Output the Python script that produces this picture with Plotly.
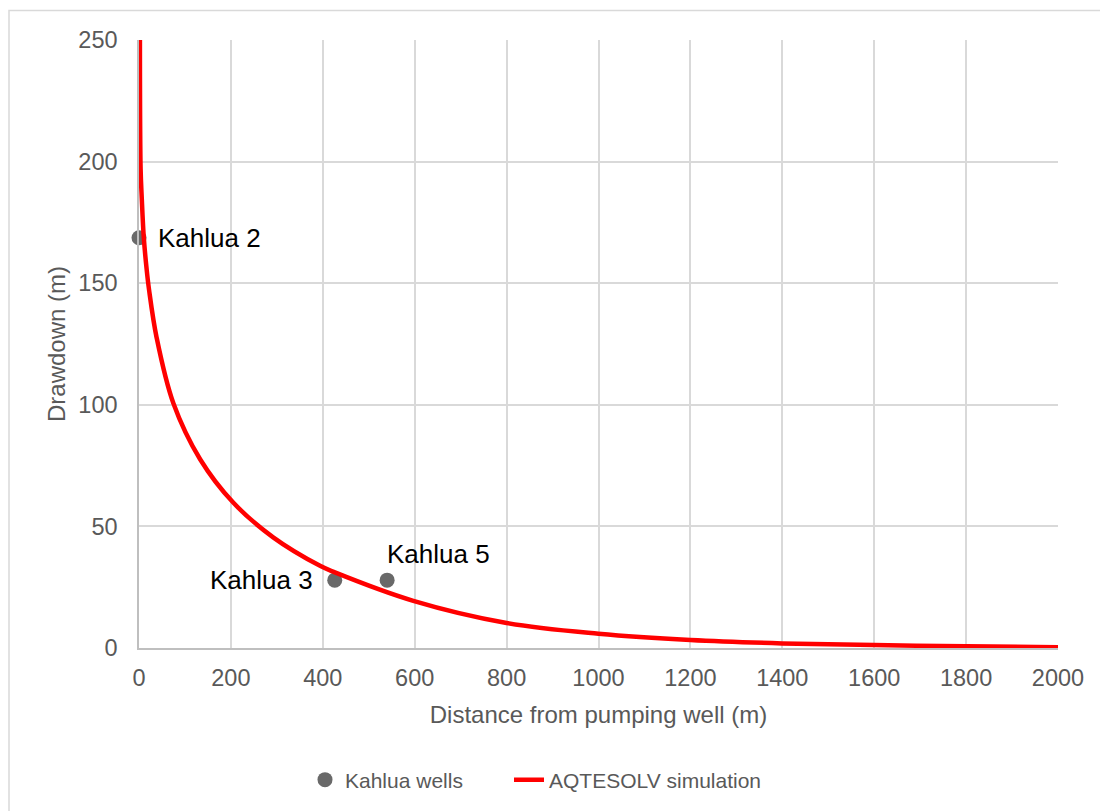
import plotly.graph_objects as go

# Observed drawdown at the Kahlua monitoring wells
well_names = ["Kahlua 2", "Kahlua 3", "Kahlua 5"]
well_distance = [0, 426, 540]
well_drawdown = [168.7, 27.9, 27.9]

# AQTESOLV simulated drawdown profile
sim_distance = [2, 3.5, 6, 10.5, 16.7, 21.8, 38.5, 75, 133, 205, 292, 394, 425,
                597, 800, 1000, 1200, 1400, 1600, 1800, 2000]
sim_drawdown = [250, 197, 185, 168.6, 155.6, 147.4, 127.5, 100.5, 77.6, 59.8,
                45.5, 33.8, 31.2, 19.4, 10.3, 5.9, 3.3, 1.9, 1.2, 0.7, 0.3]

x_ticks = list(range(0, 2001, 200))
y_ticks = list(range(0, 251, 50))

FONT = "Liberation Sans, Arial, sans-serif"
GREY_TEXT = "#595959"

fig = go.Figure()

fig.add_trace(go.Scatter(
    x=well_distance, y=well_drawdown, mode="markers", name="Kahlua wells",
    marker=dict(color="#696969", size=15, line=dict(width=0)),
    cliponaxis=False, legend="legend",
))
fig.add_trace(go.Scatter(
    x=sim_distance, y=sim_drawdown, mode="lines", name="AQTESOLV simulation",
    line=dict(color="#ff0000", width=4.5, shape="spline", smoothing=1.0),
    legend="legend2",
))

# Well labels
label_pos = {
    "Kahlua 2": dict(xanchor="left", yanchor="middle", xshift=17, yshift=0),
    "Kahlua 3": dict(xanchor="right", yanchor="middle", xshift=-20, yshift=0),
    "Kahlua 5": dict(xanchor="left", yanchor="middle", xshift=-2, yshift=26),
}
for name, xv, yv in zip(well_names, well_distance, well_drawdown):
    fig.add_annotation(x=xv, y=yv, text=name, showarrow=False,
                       font=dict(family=FONT, size=26, color="#000000"),
                       **label_pos[name])

# Chart frame
L, R, T, B = 139, 1058, 40, 649
pw, ph = R - L, B - T
fig.add_shape(type="rect", xref="paper", yref="paper",
              x0=(9 - L) / pw, x1=(1110 - L) / pw,
              y0=(B - 820) / ph, y1=(B - 10.5) / ph,
              line=dict(color="#d9d9d9", width=1.5), fillcolor="rgba(0,0,0,0)",
              layer="below")

legend_style = dict(orientation="h", xanchor="left", yanchor="middle",
                    y=(B - 780) / ph, itemwidth=30, bgcolor="rgba(0,0,0,0)",
                    font=dict(family=FONT, size=21, color=GREY_TEXT))

fig.update_layout(
    width=1100, height=811,
    margin=dict(l=L, r=1100 - R, t=T, b=811 - B),
    paper_bgcolor="white", plot_bgcolor="white",
    font=dict(family=FONT, color=GREY_TEXT, size=22),
    showlegend=True,
    legend=dict(x=(305 - L) / pw, **legend_style),
    legend2=dict(x=(509 - L) / pw, **legend_style),
    xaxis=dict(
        range=[0, 2000], tickvals=x_ticks, ticktext=[str(v) for v in x_ticks],
        showgrid=True, gridcolor="#d9d9d9", gridwidth=1.5,
        showline=True, linecolor="#bfbfbf", linewidth=1.5,
        zeroline=False, ticks="", ticklabelstandoff=8,
        tickfont=dict(family=FONT, size=23.5, color=GREY_TEXT),
        title=dict(text="Distance from pumping well (m)", standoff=16,
                   font=dict(family=FONT, size=24, color=GREY_TEXT)),
    ),
    yaxis=dict(
        range=[0, 250], tickvals=y_ticks, ticktext=[str(v) for v in y_ticks],
        showgrid=True, gridcolor="#d9d9d9", gridwidth=1.5,
        showline=True, linecolor="#bfbfbf", linewidth=1.5,
        zeroline=False, ticks="", ticklabelstandoff=15,
        tickfont=dict(family=FONT, size=23.5, color=GREY_TEXT),
        title=dict(text="Drawdown (m)", standoff=6,
                   font=dict(family=FONT, size=24, color=GREY_TEXT)),
    ),
)

fig.write_html("out.html")
